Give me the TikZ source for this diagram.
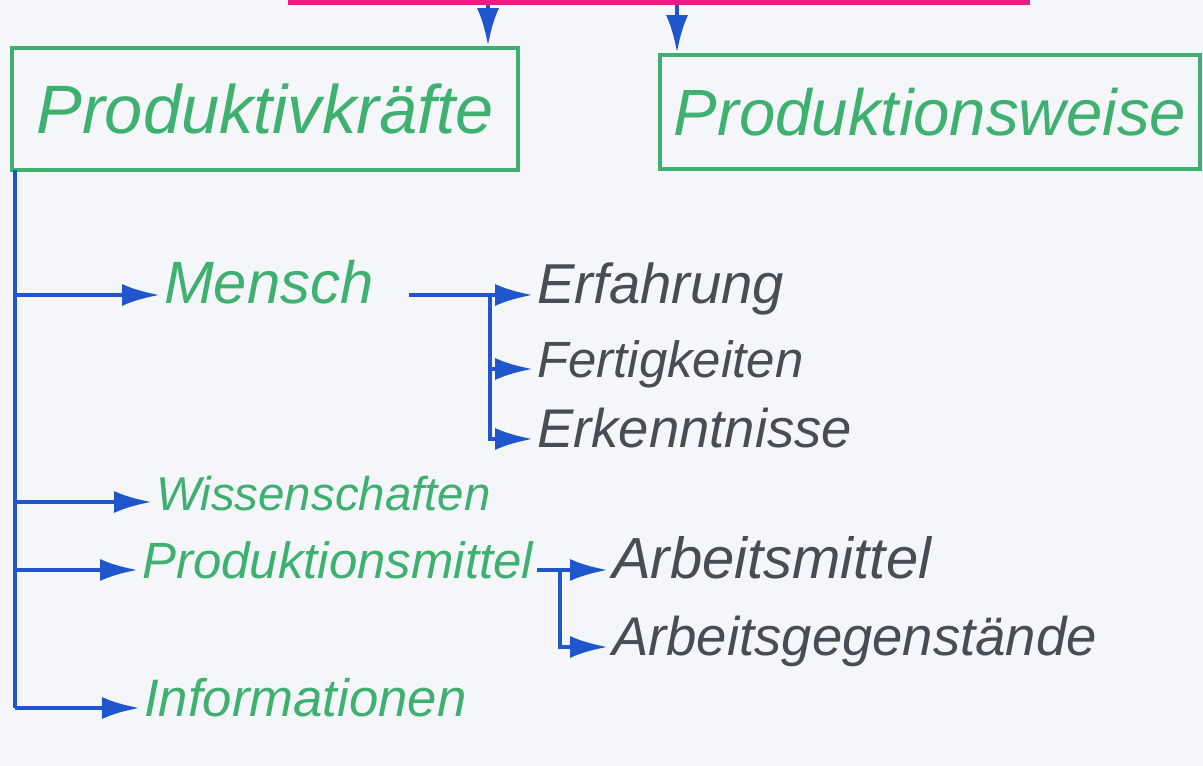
\documentclass[tikz,border=0pt]{standalone}
\usepackage{fontspec}
\setmainfont{Liberation Sans}
\usetikzlibrary{arrows.meta}
\definecolor{paper}{RGB}{244,246,249}
\definecolor{markergreen}{RGB}{62,176,112}
\definecolor{markerblue}{RGB}{32,86,205}
\definecolor{markerpink}{RGB}{226,32,132}
\definecolor{markergray}{RGB}{72,76,84}

\begin{document}
\begin{tikzpicture}[
                box/.style={draw=markergreen, line width=1.1pt, inner sep=0pt, text=markergreen,
                            font=\itshape\fontsize{19.5}{22}\selectfont},
                item/.style={anchor=west, inner sep=1pt, text=markergreen, text height=0.72em, text depth=0.21em,
                             font=\itshape\fontsize{15}{18}\selectfont},
                sub/.style={anchor=west, inner sep=1pt, text=markergray, text height=0.72em, text depth=0.21em,
                            font=\itshape\fontsize{15.5}{18}\selectfont},
                line/.style={draw=markerblue, line width=1.4pt},
                edge/.style={line, -{Latex[length=3.8mm, width=2.2mm]}},
            ]

            \fill[paper] (0,0) rectangle (12.03,-7.66);
            \useasboundingbox (0,0) rectangle (12.03,-7.66);

            % Bar and the two boxes
            \node[fill=markerpink, inner sep=0pt, minimum width=7.42cm, minimum height=0.05cm] (bar) at (6.59,-0.025) {};
            \node[box, minimum width=5.06cm, minimum height=1.22cm] (pk) at (2.65,-1.09) {Produktivkräfte};
            \node[box, minimum width=5.40cm, minimum height=1.14cm,
                  font=\itshape\fontsize{18.6}{22}\selectfont] (pw) at (9.30,-1.12) {Produktionsweise};

            % Items on the left
            \node[item, font=\itshape\fontsize{17}{20}\selectfont] (mensch) at (1.60,-2.95) {Mensch};
            \node[item, font=\itshape\fontsize{13.5}{16}\selectfont] (wiss) at (1.52,-5.02) {Wissenschaften};
            \node[item, font=\itshape\fontsize{14.5}{17}\selectfont] (pm) at (1.38,-5.70) {Produktionsmittel};
            \node[item] (info) at (1.40,-7.08) {Informationen};

            % Sub items
            \node[sub, font=\itshape\fontsize{16}{19}\selectfont] (erf) at (5.33,-2.95) {Erfahrung};
            \node[sub, font=\itshape\fontsize{14.5}{17}\selectfont] (fert) at ([yshift=-0.74cm]erf.west) {Fertigkeiten};
            \node[sub] (erk) at ([yshift=-0.70cm]fert.west) {Erkenntnisse};
            \node[sub, font=\itshape\fontsize{16.5}{20}\selectfont] (am) at (6.08,-5.70) {Arbeitsmittel};
            \node[sub] (ag) at ([yshift=-0.77cm]am.west) {Arbeitsgegenstände};

            % Arrows from the bar
            \coordinate (top1) at (4.88,-0.05);
            \coordinate (top2) at (6.77,-0.05);
            \draw[edge] (top1) -- (top1 |- pk.north);
            \draw[edge] (top2) -- (top2 |- pw.north);

            % Main trunk
            \coordinate (trunk) at (0.15,-1.70);
            \draw[line] (trunk) -- (trunk |- info);
            \draw[edge] (trunk |- mensch) -- (mensch.west);
            \draw[edge] (trunk |- wiss) -- (wiss.west);
            \draw[edge] (trunk |- pm) -- (pm.west);
            \draw[edge] (trunk |- info) -- (info.west);

            % Mensch
            \coordinate (mfork) at (4.90,-2.95);
            \draw[edge, shorten <=9pt] (mensch.east) -- (erf.west);
            \draw[edge] (mfork |- fert) -- (fert.west);
            \draw[edge] (mfork) |- (erk.west);

            % Produktionsmittel
            \coordinate (pfork) at (5.60,-5.70);
            \draw[edge] (pm.east) -- (am.west);
            \draw[edge] (pfork) |- (ag.west);

            \end{tikzpicture}
\end{document}
